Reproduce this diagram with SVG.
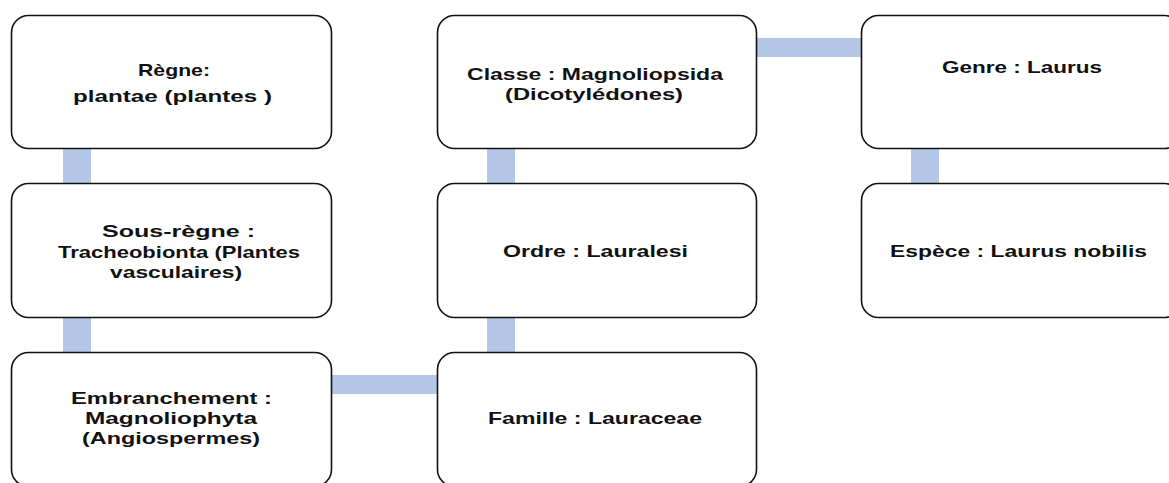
<svg xmlns="http://www.w3.org/2000/svg" width="1169" height="483" viewBox="0 0 1169 483">
<style>
  .box { fill: #ffffff; stroke: #111111; stroke-width: 1.6; }
  .conn { fill: #b4c7e7; stroke: none; }
  .lbl { font-family: "Liberation Sans", Arial, sans-serif; font-weight: bold; font-size: 17px; fill: #111111; text-anchor: middle; }
</style>
<rect width="1169" height="483" fill="#ffffff"/>
<g id="connectors">
  <rect class="conn" x="63" y="148" width="28" height="36"/>
  <rect class="conn" x="63" y="317" width="28" height="36"/>
  <rect class="conn" x="330" y="375" width="108" height="19"/>
  <rect class="conn" x="487" y="317" width="28" height="36"/>
  <rect class="conn" x="487" y="148" width="28" height="36"/>
  <rect class="conn" x="755" y="38" width="107" height="19"/>
  <rect class="conn" x="911" y="148" width="28" height="36"/>
</g>
<g id="regne">
  <rect class="box" x="11.5" y="15.5" width="320" height="133" rx="17" ry="17"/>
  <text class="lbl" x="174" y="76" textLength="72" lengthAdjust="spacingAndGlyphs">Règne:</text>
  <text class="lbl" x="172.5" y="102" textLength="199" lengthAdjust="spacingAndGlyphs">plantae (plantes )</text>
</g>
<g id="sous-regne">
  <rect class="box" x="11.5" y="183.5" width="320" height="134" rx="17" ry="17"/>
  <text class="lbl" x="178.5" y="237" textLength="153" lengthAdjust="spacingAndGlyphs">Sous-règne :</text>
  <text class="lbl" x="179" y="258" textLength="242" lengthAdjust="spacingAndGlyphs">Tracheobionta (Plantes</text>
  <text class="lbl" x="176" y="278" textLength="132" lengthAdjust="spacingAndGlyphs">vasculaires)</text>
</g>
<g id="embranchement">
  <rect class="box" x="11.5" y="352.5" width="320" height="134" rx="17" ry="17"/>
  <text class="lbl" x="171.5" y="404" textLength="201" lengthAdjust="spacingAndGlyphs">Embranchement :</text>
  <text class="lbl" x="171" y="424" textLength="172" lengthAdjust="spacingAndGlyphs">Magnoliophyta</text>
  <text class="lbl" x="171" y="444" textLength="178" lengthAdjust="spacingAndGlyphs">(Angiospermes)</text>
</g>
<g id="classe">
  <rect class="box" x="437.5" y="15.5" width="319" height="133" rx="17" ry="17"/>
  <text class="lbl" x="595" y="80" textLength="256" lengthAdjust="spacingAndGlyphs">Classe : Magnoliopsida</text>
  <text class="lbl" x="594" y="100" textLength="178" lengthAdjust="spacingAndGlyphs">(Dicotylédones)</text>
</g>
<g id="ordre">
  <rect class="box" x="437.5" y="183.5" width="319" height="134" rx="17" ry="17"/>
  <text class="lbl" x="595.5" y="257" textLength="185" lengthAdjust="spacingAndGlyphs">Ordre : Lauralesi</text>
</g>
<g id="famille">
  <rect class="box" x="437.5" y="352.5" width="319" height="134" rx="17" ry="17"/>
  <text class="lbl" x="595" y="424" textLength="214" lengthAdjust="spacingAndGlyphs">Famille : Lauraceae</text>
</g>
<g id="genre">
  <rect class="box" x="861.5" y="15.5" width="320" height="133" rx="17" ry="17"/>
  <text class="lbl" x="1022" y="73" textLength="160" lengthAdjust="spacingAndGlyphs">Genre : Laurus</text>
</g>
<g id="espece">
  <rect class="box" x="861.5" y="183.5" width="320" height="134" rx="17" ry="17"/>
  <text class="lbl" x="1018.5" y="257" textLength="257" lengthAdjust="spacingAndGlyphs">Espèce : Laurus nobilis</text>
</g>
</svg>
